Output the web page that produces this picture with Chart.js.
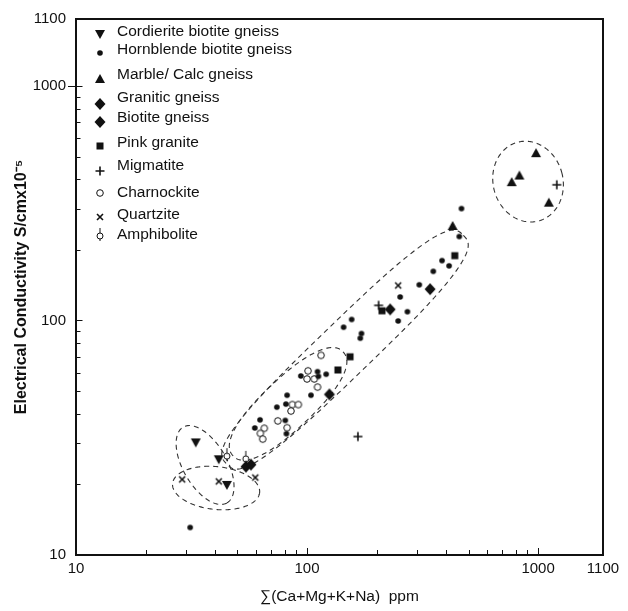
<!DOCTYPE html>
<html lang="en">
<head>
  <meta charset="UTF-8">
  <title>Electrical conductivity vs cation sum</title>
  <script src="https://cdn.jsdelivr.net/npm/chart.js"></script>
  <style>
    html, body { margin: 0; padding: 0; background: #fff; }
    #wrap { width: 628px; height: 611px; }
  </style>
</head>
<body>
<div id="wrap"><canvas id="chart" width="628" height="611"></canvas></div>
<script>
// values: x = sum(Ca+Mg+K+Na) ppm, y = conductivity S/cm x10^-5
const cordieriteX = [33, 41.5, 45];
const cordieriteY = [30.2, 25.6, 19.9];
const hornblendeX = [466, 456, 384, 412, 352, 306, 253, 272, 248, 156, 144, 172, 170, 111, 121, 94, 112, 104, 82, 81, 74, 62.6, 80.5, 59.4, 81.4, 31.2];
const hornblendeY = [300, 228, 180, 171, 162, 142, 126, 109, 99.5, 101, 93.6, 88, 84, 60.5, 59, 58, 57.8, 48, 48, 44, 42.7, 37.7, 37.5, 34.8, 32.9, 13.1];
const marbleX = [427, 980, 830, 769, 1113];
const marbleY = [253, 517, 415, 389, 318];
const graniticX = [57.2, 229];
const graniticY = [24.3, 111.5];
const biotiteX = [54.4, 125, 341];
const biotiteY = [23.8, 48.4, 136];
const pinkX = [436, 211, 153.5, 136];
const pinkY = [189, 110, 70, 61.5];
const migmatiteX = [1205, 204, 166];
const migmatiteY = [379, 116, 32];
const charnockiteX = [115, 101, 100, 107.5, 111, 86.4, 91.7, 85.2, 74.7, 82, 65.3, 62.8, 64.3];
const charnockiteY = [71, 61, 56.3, 56.3, 52, 43.8, 43.8, 41.1, 37.3, 34.9, 34.7, 33.0, 31.2];
const quartziteX = [28.8, 41.5, 59.7, 248];
const quartziteY = [21, 20.6, 21.4, 141];
const amphiboliteX = [45, 54.3];
const amphiboliteY = [26.4, 25.7];

// axes: the figure labels the far end of both axes "1100"
const X_END = 1910;
const Y_END = 1930;
const xTickValues = [10, 100, 1000, X_END];
const xTickLabels = ['10', '100', '1000', '1100'];
const yTickValues = [10, 100, 1000, Y_END];
const yTickLabels = ['10', '100', '1000', '1100'];
const minorTicks = [20, 30, 40, 50, 60, 70, 80, 90, 200, 300, 400, 500, 600, 700, 800, 900];

// dashed group outlines, centre in data units, half axes in decades
const outlines = [
  { x: 905, y: 391, a: 0.15, b: 0.175, angle: -15, n: 2 },
  { x: 146, y: 75.1, a: 0.707, b: 0.115, angle: -44, n: 3 },
  { x: 82.8, y: 44.1, a: 0.325, b: 0.107, angle: -43.4, n: 2.3 },
  { x: 36.2, y: 24.2, a: 0.188, b: 0.094, angle: 60, n: 2 },
  { x: 40.4, y: 19.3, a: 0.188, b: 0.092, angle: 6, n: 2 }
];

const INK = '#111';
const FONT = '"Liberation Sans", Arial, Helvetica, sans-serif';

function marker(draw) {
  const c = document.createElement('canvas');
  c.width = 20; c.height = 20;
  const g = c.getContext('2d');
  g.translate(10, 10);
  g.fillStyle = INK;
  g.strokeStyle = INK;
  draw(g);
  return c;
}

const markers = {
  triDown: marker(g => { g.beginPath(); g.moveTo(-5, -4); g.lineTo(5, -4); g.lineTo(0, 5); g.closePath(); g.fill(); }),
  dot: marker(g => { g.beginPath(); g.arc(0, 0, 2.8, 0, Math.PI * 2); g.fill(); }),
  triUp: marker(g => { g.beginPath(); g.moveTo(-5, 4); g.lineTo(5, 4); g.lineTo(0, -5); g.closePath(); g.fill(); }),
  diamond: marker(g => { g.beginPath(); g.moveTo(0, -6); g.lineTo(5.5, 0); g.lineTo(0, 6); g.lineTo(-5.5, 0); g.closePath(); g.fill(); }),
  square: marker(g => g.fillRect(-3.5, -3.5, 7, 7)),
  plus: marker(g => { g.lineWidth = 1.6; g.beginPath(); g.moveTo(-4.5, 0); g.lineTo(4.5, 0); g.moveTo(0, -4.5); g.lineTo(0, 4.5); g.stroke(); }),
  ring: marker(g => { g.fillStyle = '#fff'; g.lineWidth = 1; g.beginPath(); g.arc(0, 0, 3.3, 0, Math.PI * 2); g.fill(); g.stroke(); }),
  cross: marker(g => { g.lineWidth = 1.6; g.beginPath(); g.moveTo(-3, -3); g.lineTo(3, 3); g.moveTo(3, -3); g.lineTo(-3, 3); g.stroke(); }),
  ringStem: marker(g => {
    g.lineWidth = 1;
    g.beginPath(); g.moveTo(0, -8); g.lineTo(0, 5); g.stroke();
    g.fillStyle = '#fff';
    g.beginPath(); g.arc(0, 0, 3, 0, Math.PI * 2); g.fill(); g.stroke();
  })
};

const series = [
  { label: 'Cordierite biotite gneiss', xs: cordieriteX, ys: cordieriteY, mark: 'triDown' },
  { label: 'Hornblende biotite gneiss', xs: hornblendeX, ys: hornblendeY, mark: 'dot' },
  { label: 'Marble/ Calc gneiss', xs: marbleX, ys: marbleY, mark: 'triUp' },
  { label: 'Granitic gneiss', xs: graniticX, ys: graniticY, mark: 'diamond' },
  { label: 'Biotite gneiss', xs: biotiteX, ys: biotiteY, mark: 'diamond' },
  { label: 'Pink granite', xs: pinkX, ys: pinkY, mark: 'square' },
  { label: 'Migmatite', xs: migmatiteX, ys: migmatiteY, mark: 'plus' },
  { label: 'Charnockite', xs: charnockiteX, ys: charnockiteY, mark: 'ring' },
  { label: 'Quartzite', xs: quartziteX, ys: quartziteY, mark: 'cross' },
  { label: 'Amphibolite', xs: amphiboliteX, ys: amphiboliteY, mark: 'ringStem' }
];

// legend placement inside the plot (pixels)
const legendTextX = 117;
const legendSymbolX = 100;
const legendTextY = [32, 50, 75, 98, 118, 143, 166, 193, 215, 235];
const legendSymbolY = [34, 53, 79, 104, 122, 146, 171, 193, 217, 236];

const decorations = {
  id: 'decorations',
  beforeDatasetsDraw(chart) {
    const { ctx, scales: { x, y } } = chart;
    const dec = ((x.getPixelForValue(100) - x.getPixelForValue(10)) +
                 (y.getPixelForValue(10) - y.getPixelForValue(100))) / 2;
    ctx.save();
    ctx.strokeStyle = '#333';
    ctx.lineWidth = 1.1;
    ctx.setLineDash([5, 4]);
    outlines.forEach(o => {
      const cx = x.getPixelForValue(o.x), cy = y.getPixelForValue(o.y);
      const a = o.a * dec, b = o.b * dec, r = o.angle * Math.PI / 180, p = 2 / o.n;
      ctx.beginPath();
      for (let k = 0; k <= 240; k++) {
        const t = k / 240 * Math.PI * 2;
        const c = Math.cos(t), s = Math.sin(t);
        const u = a * Math.sign(c) * Math.pow(Math.abs(c), p);
        const v = b * Math.sign(s) * Math.pow(Math.abs(s), p);
        const px = cx + u * Math.cos(r) - v * Math.sin(r);
        const py = cy + u * Math.sin(r) + v * Math.cos(r);
        if (k === 0) ctx.moveTo(px, py); else ctx.lineTo(px, py);
      }
      ctx.closePath();
      ctx.stroke();
    });
    ctx.restore();
  },
  afterDraw(chart) {
    const { ctx, chartArea: area, scales: { x, y } } = chart;
    ctx.save();
    ctx.strokeStyle = INK;
    // tick marks, pointing inwards
    ctx.lineWidth = 1;
    ctx.beginPath();
    minorTicks.forEach(v => {
      const px = Math.round(x.getPixelForValue(v)) + 0.5;
      ctx.moveTo(px, area.bottom); ctx.lineTo(px, area.bottom - 5);
      const py = Math.round(y.getPixelForValue(v)) + 0.5;
      ctx.moveTo(area.left, py); ctx.lineTo(area.left + 4.5, py);
    });
    [100, 1000].forEach(v => {
      const px = Math.round(x.getPixelForValue(v)) + 0.5;
      ctx.moveTo(px, area.bottom); ctx.lineTo(px, area.bottom - 7);
      const py = Math.round(y.getPixelForValue(v)) + 0.5;
      ctx.moveTo(area.left, py); ctx.lineTo(area.left + 6.5, py);
    });
    const p1000 = Math.round(y.getPixelForValue(1000)) + 0.5;
    ctx.moveTo(area.left - 8, p1000); ctx.lineTo(area.left, p1000);
    ctx.stroke();
    // frame
    ctx.lineWidth = 2;
    ctx.strokeRect(area.left, area.top, area.right - area.left, area.bottom - area.top);
    // legend
    ctx.font = '15.5px ' + FONT;
    ctx.fillStyle = INK;
    ctx.textBaseline = 'middle';
    ctx.textAlign = 'left';
    series.forEach((s, i) => {
      const img = markers[s.mark];
      ctx.drawImage(img, legendSymbolX - img.width / 2, legendSymbolY[i] - img.height / 2);
      ctx.fillText(s.label, legendTextX, legendTextY[i]);
    });
    ctx.restore();
  }
};

new Chart(document.getElementById('chart'), {
  type: 'scatter',
  data: {
    datasets: series.map(s => ({
      label: s.label,
      data: s.xs.map((v, i) => ({ x: v, y: s.ys[i] })),
      pointStyle: markers[s.mark],
      showLine: false
    }))
  },
  options: {
    responsive: false,
    animation: false,
    layout: { padding: { top: 12, right: 25, left: 0, bottom: 0 } },
    plugins: { legend: { display: false }, tooltip: { enabled: false } },
    scales: {
      x: {
        type: 'logarithmic',
        min: 10,
        max: X_END,
        afterBuildTicks: s => { s.ticks = xTickValues.map(v => ({ value: v })); },
        afterFit: s => { s.height = 56; },
        grid: { display: false, drawTicks: false },
        border: { display: false },
        ticks: {
          autoSkip: false, maxRotation: 0, padding: 5, color: INK,
          font: { size: 15, family: FONT },
          callback: (v, i) => xTickLabels[i]
        },
        title: {
          display: true, text: '∑(Ca+Mg+K+Na)  ppm', color: INK,
          font: { size: 15.5, family: FONT }, padding: { top: 0, bottom: 5 }
        }
      },
      y: {
        type: 'logarithmic',
        min: 10,
        max: Y_END,
        afterBuildTicks: s => { s.ticks = yTickValues.map(v => ({ value: v })); },
        afterFit: s => { s.width = 76; },
        grid: { display: false, drawTicks: false },
        border: { display: false },
        ticks: {
          autoSkip: false, padding: 10, color: INK,
          font: { size: 15, family: FONT },
          callback: (v, i) => yTickLabels[i]
        },
        title: {
          display: true, text: 'Electrical Conductivity S/cmx10⁻⁵', color: INK,
          font: { size: 16, weight: 'bold', family: FONT }, padding: { top: 12, bottom: 0 }
        }
      }
    }
  },
  plugins: [decorations]
});
</script>
</body>
</html>
